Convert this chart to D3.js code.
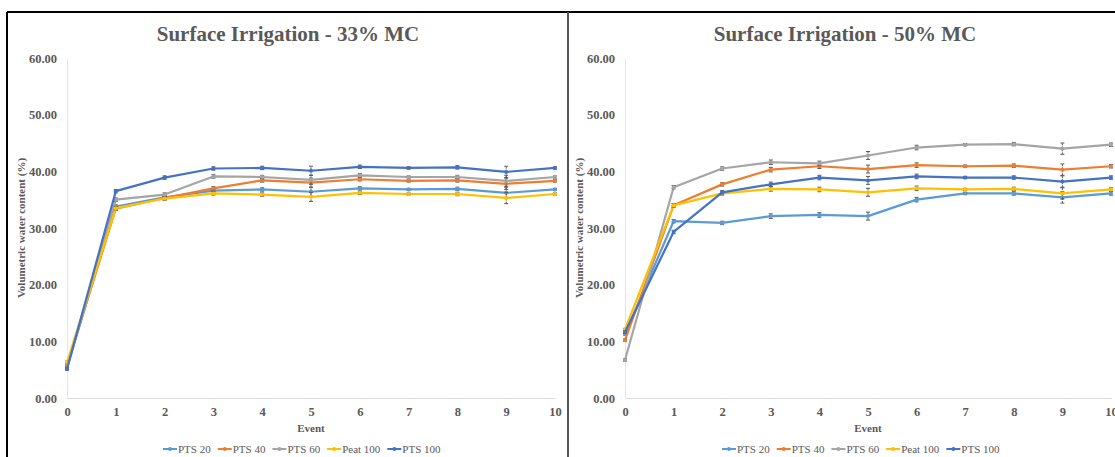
<!DOCTYPE html>
<html>
<head>
<meta charset="utf-8">
<script src="https://cdn.jsdelivr.net/npm/d3@7"></script>
<style>
  body { margin: 0; background: #fff; }
  svg { display: block; }
  .tick text { font-family: "Liberation Serif", "DejaVu Serif", serif; font-weight: bold; fill: #595959; }
</style>
</head>
<body>
<svg id="chart"></svg>
<script>
// events on the x axis
const events = [0, 1, 2, 3, 4, 5, 6, 7, 8, 9, 10];
const yTicks = [0, 10, 20, 30, 40, 50, 60];
const seriesNames = ["PTS 20", "PTS 40", "PTS 60", "Peat 100", "PTS 100"];
const seriesColors = ["#5B9BD5", "#ED7D31", "#A5A5A5", "#FFC000", "#4472C4"];

// Surface Irrigation - 33% MC
const mc33_pts20  = [5.5, 33.8, 35.4, 36.6, 36.8, 36.4, 37.0, 36.8, 36.9, 36.2, 36.8];
const mc33_pts40  = [5.8, 33.4, 35.3, 37.0, 38.4, 38.0, 38.6, 38.3, 38.4, 37.8, 38.3];
const mc33_pts60  = [5.3, 35.0, 35.9, 39.1, 39.0, 38.5, 39.3, 39.0, 39.0, 38.3, 39.0];
const mc33_peat   = [6.3, 33.5, 35.2, 36.1, 35.9, 35.5, 36.2, 36.0, 36.0, 35.3, 36.0];
const mc33_pts100 = [5.1, 36.5, 38.9, 40.5, 40.6, 40.1, 40.8, 40.6, 40.7, 39.9, 40.6];
const mc33_err    = [0.2, 0.3, 0.3, 0.3, 0.3, 0.8, 0.3, 0.2, 0.3, 1.0, 0.2];

// Surface Irrigation - 50% MC
const mc50_pts20  = [11.3, 31.2, 30.9, 32.1, 32.3, 32.1, 35.0, 36.1, 36.1, 35.4, 36.1];
const mc50_pts40  = [10.2, 34.0, 37.7, 40.3, 40.9, 40.4, 41.1, 40.9, 41.0, 40.3, 40.9];
const mc50_pts60  = [6.7, 37.2, 40.5, 41.6, 41.4, 42.8, 44.2, 44.7, 44.8, 44.0, 44.7];
const mc50_peat   = [12.1, 34.0, 36.1, 36.9, 36.8, 36.3, 37.0, 36.8, 36.9, 36.1, 36.8];
const mc50_pts100 = [11.6, 29.3, 36.3, 37.7, 38.9, 38.4, 39.1, 38.9, 38.9, 38.2, 38.9];
const mc50_err    = [0.2, 0.3, 0.3, 0.4, 0.4, 0.7, 0.4, 0.2, 0.3, 1.0, 0.3];

const W = 1115, H = 457;
const svg = d3.select("#chart").attr("width", W).attr("height", H);
svg.append("rect").attr("width", W).attr("height", H).attr("fill", "#fff");

function drawPanel(opts) {
  const { left, right, title, values, err, legendX } = opts;
  const top = 58, bottom = 398;

  const x = d3.scaleLinear().domain([0, 10]).range([left, right]);
  const y = d3.scaleLinear().domain([0, 60]).range([bottom, top]);
  const g = svg.append("g");

  // title
  g.append("text")
    .attr("x", (left + right) / 2 - 23)
    .attr("y", 41)
    .attr("text-anchor", "middle")
    .style("font-family", "'Liberation Serif', serif")
    .style("font-weight", "bold")
    .style("font-size", "21px")
    .style("fill", "#595959")
    .text(title);

  // y axis
  const yAxis = g.append("g")
    .attr("transform", `translate(${left},0)`)
    .call(d3.axisLeft(y).tickValues(yTicks).tickFormat(d3.format(".2f")).tickSize(0).tickPadding(10));
  yAxis.select(".domain").attr("stroke", "#e6e6e6");
  yAxis.selectAll("text").style("font-size", "12.5px");

  // x axis
  const xAxis = g.append("g")
    .attr("transform", `translate(0,${bottom})`)
    .call(d3.axisBottom(x).tickValues(events).tickFormat(d3.format("d")).tickSize(0).tickPadding(9));
  xAxis.select(".domain").attr("stroke", "#d9d9d9");
  xAxis.selectAll("text").style("font-size", "12.5px");

  // axis titles
  g.append("text")
    .attr("x", (left + right) / 2)
    .attr("y", 432)
    .attr("text-anchor", "middle")
    .style("font-family", "'Liberation Serif', serif")
    .style("font-weight", "bold")
    .style("font-size", "11px")
    .style("fill", "#595959")
    .text("Event");

  g.append("text")
    .attr("transform", `translate(${left - 42},${(top + bottom) / 2}) rotate(-90)`)
    .attr("text-anchor", "middle")
    .style("font-family", "'Liberation Serif', serif")
    .style("font-weight", "bold")
    .style("font-size", "11px")
    .style("fill", "#595959")
    .text("Volumetric water content (%)");

  const line = d3.line().x((d, i) => x(events[i])).y(d => y(d));

  values.forEach((vals, s) => {
    const col = seriesColors[s];
    g.append("path")
      .datum(vals)
      .attr("fill", "none")
      .attr("stroke", col)
      .attr("stroke-width", 2.2)
      .attr("stroke-linejoin", "round")
      .attr("d", line);

    // error bars
    const eb = g.append("g");
    vals.forEach((v, i) => {
      const e = err[i];
      const cx = x(events[i]);
      eb.append("line")
        .attr("x1", cx).attr("x2", cx)
        .attr("y1", y(v - e)).attr("y2", y(v + e))
        .attr("stroke", "#595959").attr("stroke-width", 1)
        .attr("stroke-dasharray", "2,1");
      [v - e, v + e].forEach(c => {
        eb.append("line")
          .attr("x1", cx - 2).attr("x2", cx + 2)
          .attr("y1", y(c)).attr("y2", y(c))
          .attr("stroke", "#595959").attr("stroke-width", 1);
      });
    });

    // markers
    g.selectAll(null)
      .data(vals)
      .enter()
      .append("circle")
      .attr("cx", (d, i) => x(events[i]))
      .attr("cy", d => y(d))
      .attr("r", 2)
      .attr("fill", col);
  });

  // legend
  const lg = g.append("g").attr("transform", `translate(${legendX},449)`);
  let lx = 0;
  seriesNames.forEach((name, s) => {
    const item = lg.append("g").attr("transform", `translate(${lx},0)`);
    item.append("line")
      .attr("x1", 0).attr("x2", 14)
      .attr("y1", 0).attr("y2", 0)
      .attr("stroke", seriesColors[s]).attr("stroke-width", 2);
    item.append("circle").attr("cx", 7).attr("cy", 0).attr("r", 2).attr("fill", seriesColors[s]);
    const t = item.append("text")
      .attr("x", 15)
      .attr("y", 4)
      .style("font-family", "'Liberation Serif', serif")
      .style("font-size", "11px")
      .style("fill", "#595959")
      .text(name);
    lx += 15 + t.node().getComputedTextLength() + 7;
  });
}

drawPanel({
  left: 67, right: 555,
  title: "Surface Irrigation - 33% MC",
  values: [mc33_pts20, mc33_pts40, mc33_pts60, mc33_peat, mc33_pts100],
  err: mc33_err,
  legendX: 163
});

drawPanel({
  left: 625, right: 1111,
  title: "Surface Irrigation - 50% MC",
  values: [mc50_pts20, mc50_pts40, mc50_pts60, mc50_peat, mc50_pts100],
  err: mc50_err,
  legendX: 722
});

// frame lines
svg.append("line").attr("x1", 7).attr("x2", W).attr("y1", 12).attr("y2", 12)
  .attr("stroke", "#000").attr("stroke-width", 2);
svg.append("line").attr("x1", 7).attr("x2", 7).attr("y1", 12).attr("y2", H)
  .attr("stroke", "#000").attr("stroke-width", 2);
svg.append("line").attr("x1", 568).attr("x2", 568).attr("y1", 12).attr("y2", H)
  .attr("stroke", "#555").attr("stroke-width", 2);
</script>
</body>
</html>
